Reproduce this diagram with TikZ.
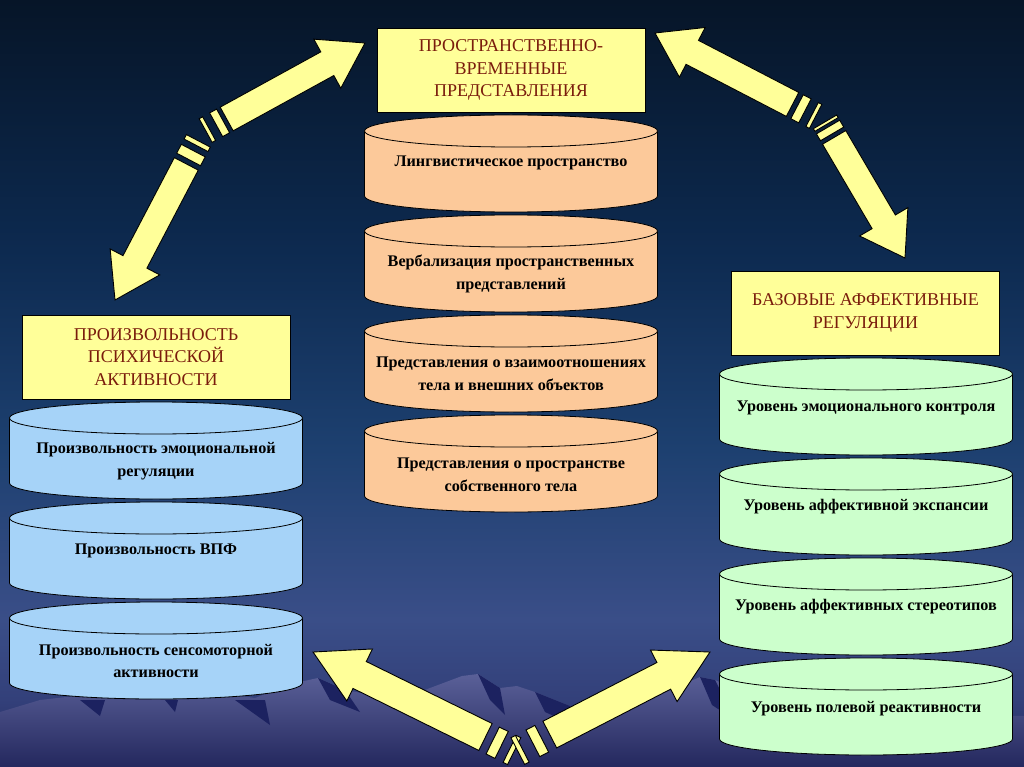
\documentclass[tikz,border=0pt]{standalone}
\usepackage{fontspec}
\setmainfont{Liberation Serif}
\usetikzlibrary{calc}

\definecolor{skytop}{HTML}{061528}
\definecolor{skyhigh}{HTML}{0D2A50}
\definecolor{skymidc}{HTML}{1D4070}
\definecolor{skymid}{HTML}{3A4E88}
\definecolor{skylow}{HTML}{33407A}
\definecolor{skybot}{HTML}{24285E}
\definecolor{mtn}{HTML}{5A6098}
\definecolor{mtnshadow}{HTML}{1C2260}
\definecolor{hdrfill}{HTML}{FFFF99}
\definecolor{hdrtext}{HTML}{7A1C0C}
\definecolor{arrfill}{HTML}{FFFF99}
\definecolor{peach}{HTML}{FCC99A}
\definecolor{paleblue}{HTML}{A6D3F8}
\definecolor{mint}{HTML}{CCFFCC}

\pgfdeclareverticalshading{sky}{100bp}{color(0bp)=(skybot); color(25bp)=(skybot);
  color(29.4bp)=(skylow); color(34.6bp)=(skymid); color(45.7bp)=(skymidc);
  color(58.7bp)=(skyhigh); color(75bp)=(skytop); color(100bp)=(skytop)}

\tikzset{
  header/.style={draw=black, line width=0.8pt, fill=hdrfill, minimum width=268pt,
    minimum height=84pt, text=hdrtext, align=center, inner sep=0pt,
    font=\fontsize{18}{22.5}\selectfont},
  drumline/.style={draw=black, line width=0.8pt},
  drumtext/.style={align=center, inner sep=0pt,
    font=\bfseries\fontsize{16.2}{22.5}\selectfont},
  arrowbody/.style={draw=black, line width=0.9pt, fill=arrfill, line join=miter}
}

% name, centre x, centre y of the top ellipse, fill, text, text drop
\newcommand\drum[6]{%
  \draw[drumline, fill=#4] (#2-146.5,#3) -- ++(0,-65)
    arc[start angle=180, end angle=360, x radius=146.5pt, y radius=16pt] -- ++(0,65) -- cycle;
  \draw[drumline, fill=#4] (#2,#3) ellipse[x radius=146.5pt, y radius=16pt];
  \node[drumtext] (#1) at (#2,#3-#6) {#5};
}
% joint, tip, start distance, shaft half width, head half width, head length
\newcommand\fatarrow[6]{%
  \path ($(#1)!#3!(#2)$) coordinate (sa) ($(#2)!#6!(#1)$) coordinate (hb);
  \draw[arrowbody] ($(sa)!#4!90:(#2)$) -- ($(hb)!#4!90:(#2)$) -- ($(hb)!#5!90:(#2)$)
    -- (#2) -- ($(hb)!#5!-90:(#2)$) -- ($(hb)!#4!-90:(#2)$) -- ($(sa)!#4!-90:(#2)$) -- cycle;
}
% joint, tip, from, to, half width
\newcommand\brkbar[5]{%
  \path ($(#1)!#3!(#2)$) coordinate (ba) ($(#1)!#4!(#2)$) coordinate (bb);
  \draw[arrowbody] ($(ba)!#5!90:(bb)$) -- ($(bb)!#5!-90:(ba)$)
    -- ($(bb)!#5!90:(ba)$) -- ($(ba)!#5!-90:(bb)$) -- cycle;
}

\begin{document}
\begin{tikzpicture}[x=1pt, y=1pt]
  \useasboundingbox (0,0) rectangle (1024,-767);
  \clip (0,0) rectangle (1024,-767);
  \shade[shading=sky] (0,0) rectangle (1024,-767);

  \shade[top color=mtn, bottom color=skybot] (0,-712) -- (40,-700) -- (110,-692) -- (200,-690)
    -- (255,-698) -- (290,-684) -- (318,-678) -- (345,-690) -- (400,-700) -- (430,-688)
    -- (462,-676) -- (478,-674) -- (500,-688) -- (517,-686) -- (535,-692) -- (570,-706)
    -- (620,-712) -- (660,-694) -- (700,-677) -- (715,-680) -- (760,-700) -- (830,-712)
    -- (1024,-716) -- (1024,-767) -- (0,-767) -- cycle;
  \fill[mtnshadow] (478,-674) -- (500,-688) -- (505,-715) -- (490,-700) -- cycle;
  \fill[mtnshadow] (535,-692) -- (570,-706) -- (585,-730) -- (545,-712) -- cycle;
  \fill[mtnshadow] (700,-677) -- (715,-680) -- (735,-720) -- (712,-705) -- cycle;
  \fill[mtnshadow] (318,-678) -- (345,-690) -- (360,-712) -- (330,-700) -- cycle;
  \fill[mtnshadow] (80,-700) -- (105,-700) -- (100,-716) -- cycle;
  \fill[mtnshadow] (165,-700) -- (178,-700) -- (175,-712) -- cycle;
  \fill[mtnshadow] (235,-700) -- (265,-700) -- (270,-725) -- cycle;

  \node[header] (space) at (511,-70) {ПРОСТРАНСТВЕННО-\\ВРЕМЕННЫЕ\\ПРЕДСТАВЛЕНИЯ};
  \node[header] (will) at (156,-357) {ПРОИЗВОЛЬНОСТЬ\\ПСИХИЧЕСКОЙ\\АКТИВНОСТИ};
  \node[header] (affect) at (865.5,-313) {БАЗОВЫЕ АФФЕКТИВНЫЕ\\РЕГУЛЯЦИИ};

  \drum{ling}{511}{-131}{peach}{Лингвистическое пространство}{32}
  \drum{verb}{511}{-231}{peach}{Вербализация пространственных\\представлений}{43}
  \drum{rel}{511}{-331}{peach}{Представления о взаимоотношениях\\тела и внешних объектов}{43}
  \drum{body}{511}{-431}{peach}{Представления о пространстве\\собственного тела}{44}

  \drum{emo}{156}{-418}{paleblue}{Произвольность эмоциональной\\регуляции}{43}
  \drum{vpf}{156}{-518}{paleblue}{Произвольность ВПФ}{33}
  \drum{senso}{156}{-618}{paleblue}{Произвольность сенсомоторной\\активности}{43}

  \drum{ctrl}{866}{-374}{mint}{Уровень эмоционального контроля}{34}
  \drum{exp}{866}{-474}{mint}{Уровень аффективной экспансии}{33}
  \drum{ster}{866}{-574}{mint}{Уровень аффективных стереотипов}{33}
  \drum{field}{866}{-674}{mint}{Уровень полевой реактивности}{35}

  \coordinate (j1) at (203,-132);
  \coordinate (t1a) at (365,-43);
  \coordinate (t1b) at (115,-300);
  \fatarrow{j1}{t1a}{27pt}{13.5pt}{28pt}{43pt}
  \fatarrow{j1}{t1b}{36pt}{13.5pt}{28pt}{43pt}
  \brkbar{j1}{t1a}{15pt}{23pt}{13.5pt}
  \brkbar{j1}{t1a}{3pt}{7pt}{13.5pt}
  \brkbar{j1}{t1b}{10pt}{15pt}{13.5pt}
  \brkbar{j1}{t1b}{21pt}{31pt}{13.5pt}

  \coordinate (j2) at (824.5,-121);
  \coordinate (t2a) at (655,-33);
  \coordinate (t2b) at (905,-258);
  \fatarrow{j2}{t2a}{36pt}{13.5pt}{28pt}{42pt}
  \fatarrow{j2}{t2b}{19pt}{13.5pt}{28pt}{42pt}
  \brkbar{j2}{t2a}{22pt}{31pt}{13.5pt}
  \brkbar{j2}{t2a}{10pt}{14pt}{13.5pt}
  \brkbar{j2}{t2b}{1pt}{4pt}{13.5pt}
  \brkbar{j2}{t2b}{7pt}{15pt}{13.5pt}

  \coordinate (j3) at (516,-752);
  \coordinate (t3a) at (313,-652);
  \coordinate (t3b) at (710,-652);
  \fatarrow{j3}{t3a}{34pt}{15pt}{29pt}{52pt}
  \fatarrow{j3}{t3b}{38pt}{15pt}{29pt}{52pt}
  \brkbar{j3}{t3a}{16pt}{26pt}{15pt}
  \brkbar{j3}{t3a}{2pt}{7pt}{15pt}
  \brkbar{j3}{t3b}{19pt}{29pt}{15pt}
  \brkbar{j3}{t3b}{2pt}{7pt}{15pt}
\end{tikzpicture}
\end{document}
